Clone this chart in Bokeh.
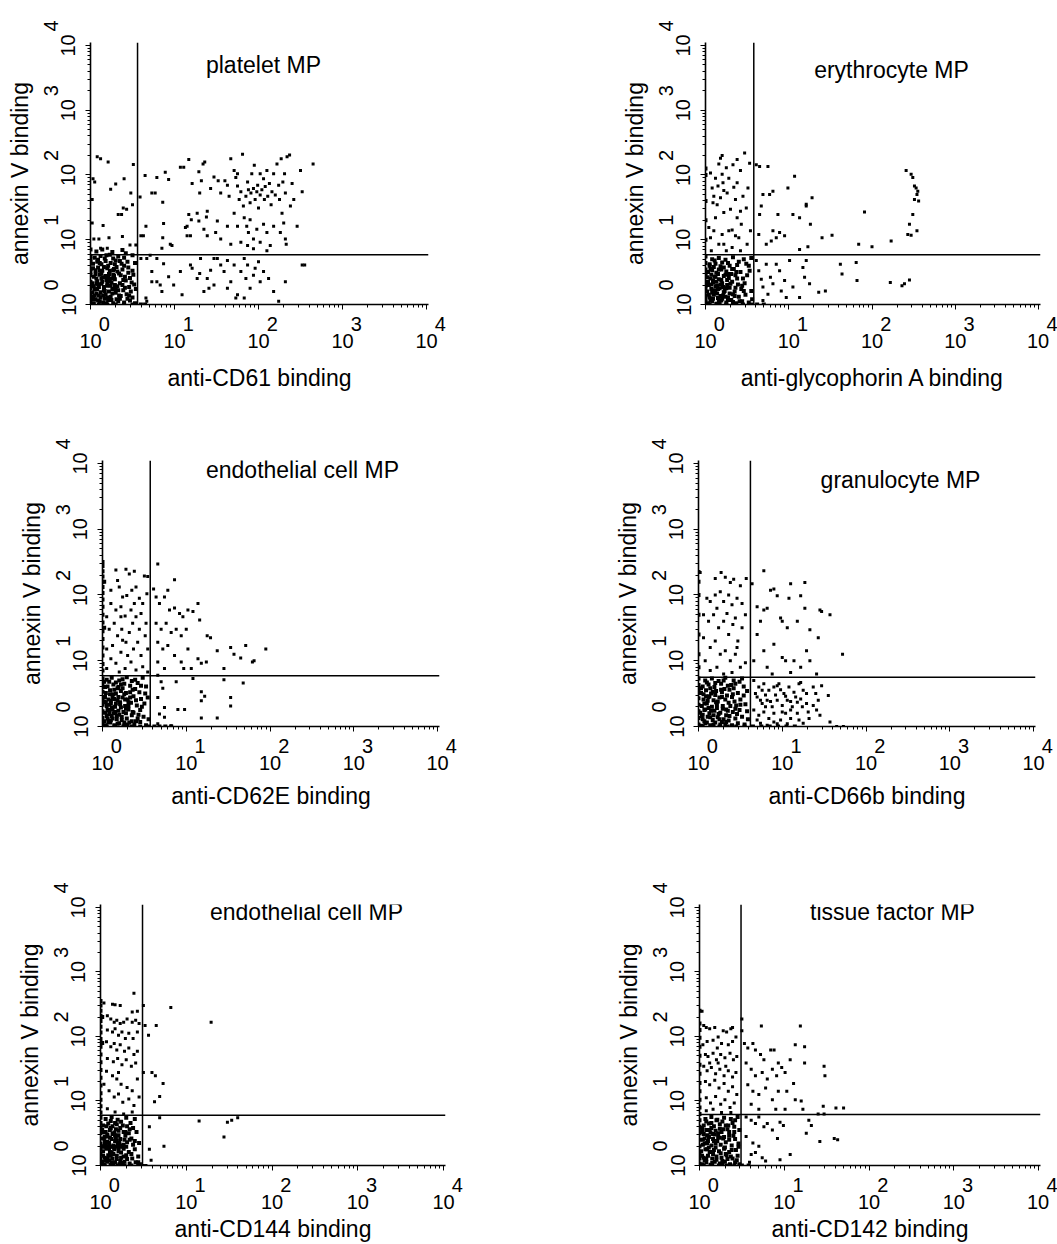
import math
from bokeh.plotting import figure
from bokeh.layouts import row, column
from bokeh.models import Range1d, Span, Label, CustomJSTickFormatter
from bokeh.embed import file_html
from bokeh.resources import INLINE

FONT = "Liberation Sans"

# ---------------- data (values in decades, log10) ----------------
titles = ["platelet MP", "erythrocyte MP", "endothelial cell MP",
          "granulocyte MP", "endothelial cell MP", "tissue factor MP"]
x_labels = ["anti-CD61 binding", "anti-glycophorin A binding", "anti-CD62E binding",
            "anti-CD66b binding", "anti-CD144 binding", "anti-CD142 binding"]
y_label = "annexin V binding"
gate_x_log = [0.56, 0.58, 0.57, 0.62, 0.49, 0.49]
gate_y_log = [0.77, 0.77, 0.77, 0.75, 0.78, 0.79]

p1_sparse = [
    (0.08,2.28),(0.12,2.25),(0.21,2.2),(0.03,1.94),(0.05,1.89),(0.30,1.86),(0.24,1.78),(0.40,1.94),(0.51,2.16),
    (0.48,1.72),(0.39,1.49),(0.33,1.39),(0.37,1.39),(0.43,1.47),(0.50,1.54),(0.15,1.22),(0.02,1.62),(0.02,1.26),
    (0.04,1.01),(0.10,1.01),(0.22,1.03),(0.38,1.05),(0.47,0.92),(0.54,0.92),(0.12,0.87),(0.20,0.87),
    (0.59,1.66),(0.60,1.06),(0.63,1.06),(0.65,1.99),(0.66,1.21),(0.73,1.72),(0.77,1.72),(0.79,1.96),(0.86,1.58),
    (0.86,1.03),(0.87,1.25),(0.89,2.04),(0.93,1.93),(0.95,0.93),(0.97,0.91),(0.85,0.87),(1.07,2.12),(1.11,2.12),
    (1.17,2.24),(1.15,1.21),(1.13,1.19),(1.17,1.39),(1.20,1.31),(1.15,1.06),(1.19,1.06),(1.21,1.87),(1.29,2.05),
    (1.29,1.29),(1.34,2.17),(1.36,2.2),(1.32,1.91),(1.30,1.72),(1.27,1.41),(1.35,1.16),(1.39,1.06),(1.39,1.44),
    (1.43,1.79),(1.38,1.35),
    (0.60,0.71),(0.67,0.71),(0.71,0.76),(0.79,0.71),(0.87,0.63),(0.73,0.51),(0.79,0.35),(0.83,0.30),(0.85,0.20),
    (0.93,0.43),(0.99,0.30),(1.07,0.51),(1.09,0.15),(1.19,0.61),(1.21,0.56),(1.27,0.40),(1.30,0.48),(1.35,0.20),
    (1.41,0.25),(1.43,0.53),(1.47,0.71),(0.66,0.10),(0.67,0.05),(0.73,0.35),
    (1.47,1.97),(1.52,1.91),(1.55,1.72),(1.60,1.91),(1.63,1.84),(1.65,1.67),(1.67,2.25),(1.71,2.07),(1.73,1.96),
    (1.75,1.83),(1.75,2.02),(1.77,1.62),(1.79,1.74),(1.81,2.32),(1.82,1.52),(1.85,1.67),(1.87,1.89),(1.88,1.77),
    (1.90,1.57),(1.91,1.72),(1.92,2.02),(1.94,1.79),(1.95,2.15),(1.96,1.62),(1.98,1.74),(1.99,1.84),(2.00,1.49),
    (2.02,1.69),(2.02,2.02),(2.04,1.77),(2.06,1.94),(2.07,1.62),(2.08,1.82),(2.10,2.07),(2.11,1.67),(2.13,1.87),
    (2.15,1.54),(2.16,1.74),(2.18,2.02),(2.20,1.69),(2.22,2.17),(2.24,1.84),(2.25,1.62),(2.27,2.25),(2.29,1.89),
    (2.31,2.02),(2.32,1.72),(2.34,2.28),(2.37,2.31),(2.38,1.52),(2.40,1.87),(2.42,1.62),(2.46,1.21),(2.50,2.07),
    (2.52,1.74),(2.65,2.17),(2.28,1.41),(2.30,1.26),(2.32,1.01),(2.33,0.93),(2.26,1.11),
    (1.71,1.41),(1.75,1.21),(1.83,1.34),(1.86,1.21),(1.88,1.11),(1.90,1.31),(1.94,1.01),(1.98,1.16),(2.02,0.96),
    (2.06,1.24),(2.10,1.11),(2.14,0.91),(2.18,1.21),(1.63,1.21),(1.55,1.01),(1.51,1.29),(1.79,0.96),(1.87,0.91),
    (1.67,0.93),(1.49,1.11),(1.94,0.86),(2.10,0.83),
    (1.51,0.71),(1.55,0.61),(1.59,0.51),(1.63,0.68),(1.67,0.35),(1.71,0.61),(1.73,0.10),(1.75,0.15),(1.79,0.51),
    (1.83,0.71),(1.85,0.40),(1.87,0.61),(1.90,0.25),(1.94,0.45),(1.96,0.56),(2.00,0.66),(2.02,0.35),(2.06,0.51),
    (2.12,0.40),(2.18,0.20),(2.24,0.05),(2.32,0.35),(2.52,0.61),(2.55,0.61),(1.47,0.30),(1.39,0.40),(1.31,0.71),
    (1.83,0.10),(1.63,0.25),
]
p1_dense = [
    (0.00,0.05),(0.00,0.15),(0.00,0.25),(0.00,0.35),(0.00,0.45),(0.00,0.55),(0.00,0.65),(0.00,0.75),(0.00,0.85),
    (0.00,0.10),(0.00,0.30),(0.00,0.50),(0.00,0.70),
    (0.04,0.02),(0.09,0.06),(0.15,0.03),(0.21,0.07),(0.27,0.02),(0.33,0.05),(0.40,0.03),(0.47,0.06),(0.53,0.02),
    (0.03,0.12),(0.07,0.17),(0.12,0.11),(0.18,0.15),(0.24,0.12),(0.30,0.18),(0.36,0.13),(0.43,0.16),(0.50,0.11),
    (0.05,0.23),(0.10,0.27),(0.16,0.22),(0.20,0.29),(0.26,0.24),(0.32,0.28),(0.39,0.22),(0.46,0.27),(0.54,0.24),
    (0.02,0.33),(0.08,0.36),(0.13,0.32),(0.19,0.38),(0.25,0.34),(0.29,0.39),(0.35,0.33),(0.42,0.37),(0.49,0.34),
    (0.04,0.43),(0.11,0.46),(0.15,0.42),(0.22,0.47),(0.28,0.44),(0.34,0.48),(0.41,0.43),(0.51,0.46),
    (0.06,0.53),(0.09,0.57),(0.14,0.52),(0.20,0.56),(0.27,0.53),(0.31,0.58),(0.38,0.54),(0.45,0.57),
    (0.03,0.63),(0.08,0.66),(0.13,0.62),(0.18,0.67),(0.24,0.64),(0.30,0.68),(0.37,0.63),(0.44,0.66),(0.53,0.64),
    (0.05,0.72),(0.12,0.75),(0.17,0.71),(0.23,0.77),(0.33,0.74),(0.40,0.72),(0.50,0.76),
    (0.07,0.82),(0.14,0.85),(0.26,0.81),(0.38,0.84),
    (0.06,0.08),(0.12,0.19),(0.17,0.09),(0.22,0.20),(0.09,0.31),(0.16,0.27),(0.23,0.36),(0.07,0.40),(0.18,0.44),
    (0.13,0.48),(0.25,0.07),(0.29,0.30),(0.10,0.14),(0.20,0.33),(0.27,0.46),(0.02,0.19),(0.04,0.28),(0.35,0.09),
    (0.41,0.26),(0.47,0.41),(0.32,0.51),(0.21,0.60),(0.11,0.64),(0.27,0.71),
    (0.05,0.14),(0.08,0.24),(0.11,0.05),(0.14,0.35),(0.17,0.21),(0.19,0.02),(0.21,0.41),(0.24,0.29),(0.26,0.17),
    (0.28,0.55),(0.31,0.08),(0.33,0.22),(0.36,0.45),(0.38,0.30),(0.44,0.09),(0.48,0.20),(0.52,0.31),(0.45,0.49),
    (0.40,0.60),(0.35,0.67),(0.16,0.58),(0.06,0.47),(0.03,0.56),(0.09,0.69),(0.19,0.76),(0.29,0.62),(0.42,0.79),
    (0.02,0.08),(0.13,0.40),(0.23,0.52),(0.07,0.33),(0.15,0.14),(0.25,0.40),(0.34,0.14),(0.11,0.52),(0.20,0.11),
    (0.30,0.24),(0.39,0.38),(0.46,0.14),(0.50,0.52),
    (0.02,0.0),(0.10,0.0),(0.20,0.0),(0.30,0.0),(0.40,0.0),(0.50,0.0),(0.60,0.0),(0.65,0.0),
]

p2_sparse = [
    (0.06,2.03),(0.08,1.80),(0.10,1.67),(0.12,1.95),(0.14,1.54),(0.16,2.17),(0.18,2.26),(0.20,2.30),(0.21,1.88),
    (0.22,1.42),(0.25,2.11),(0.26,1.72),(0.28,1.95),(0.30,1.47),(0.32,1.15),(0.33,2.16),(0.34,1.81),(0.36,1.62),
    (0.38,1.34),(0.38,1.88),(0.40,1.03),(0.42,2.07),(0.43,1.24),(0.45,1.67),(0.47,2.34),(0.49,1.49),(0.50,0.93),
    (0.51,1.80),(0.53,2.18),(0.54,1.14),(0.04,1.19),(0.06,1.03),(0.10,1.14),(0.16,0.93),(0.12,1.34),(0.20,1.08),
    (0.22,0.93),(0.28,1.14),(0.32,0.88),(0.36,1.06),(0.18,1.65),(0.42,1.44),(0.15,1.83),(0.20,2.01),(0.09,1.57),
    (0.38,2.24),(0.22,1.76),(0.07,0.83),(0.25,0.83),(0.42,0.83),
    (0.61,2.16),(0.65,2.13),(0.75,2.13),(0.67,1.52),(0.65,1.39),(0.69,1.70),(0.77,1.70),(0.81,1.75),(0.87,1.39),
    (0.81,1.14),(0.85,1.03),(0.89,1.11),(0.79,0.98),(0.95,1.06),(0.99,1.80),(1.07,1.98),(1.05,1.39),(1.13,1.34),
    (1.21,1.55),(1.21,1.52),(1.28,1.65),(1.26,1.24),(1.40,1.03),(1.13,0.85),(1.23,0.89),(0.64,1.08),(0.73,0.93),
    (1.52,1.07),(1.84,0.93),(1.91,1.43),(2.00,0.89),(2.23,0.98),(2.41,2.07),(2.47,2.01),(2.49,1.96),(2.51,1.83),
    (2.53,1.80),(2.55,1.75),(2.54,1.70),(2.51,1.62),(2.56,1.60),(2.49,1.39),(2.45,1.24),(2.43,1.08),(2.47,1.07),
    (2.54,1.14),(2.45,0.38),(2.36,0.29),(2.39,0.32),(2.22,0.34),
    (0.61,0.68),(0.64,0.52),(0.67,0.39),(0.69,0.27),(0.73,0.62),(0.75,0.16),(0.78,0.42),(0.81,0.32),(0.85,0.62),
    (0.89,0.52),(0.91,0.21),(0.95,0.37),(0.97,0.11),(1.01,0.68),(1.05,0.27),(1.13,0.11),(1.19,0.42),(1.21,0.68),
    (1.25,0.32),(1.36,0.19),(1.44,0.21),(1.17,0.57),(1.62,0.62),(1.64,0.47),(1.81,0.65),(1.82,0.37),(0.69,0.06),
]
p2_dense = [
    (0.00,0.04),(0.00,0.14),(0.00,0.24),(0.00,0.34),(0.00,0.44),(0.00,0.54),(0.00,0.64),(0.00,0.74),(0.00,0.09),
    (0.00,0.29),(0.00,0.49),(0.00,1.0),(0.00,1.3),(0.00,1.6),(0.00,2.0),(0.00,2.1),
    (0.03,0.02),(0.08,0.05),(0.13,0.01),(0.19,0.06),(0.25,0.03),(0.31,0.07),(0.37,0.02),(0.44,0.05),(0.52,0.03),
    (0.05,0.11),(0.10,0.15),(0.15,0.10),(0.21,0.14),(0.27,0.11),(0.33,0.16),(0.40,0.12),(0.48,0.15),
    (0.02,0.20),(0.07,0.24),(0.12,0.19),(0.17,0.25),(0.23,0.21),(0.29,0.26),(0.35,0.20),(0.43,0.24),(0.55,0.21),
    (0.04,0.30),(0.09,0.34),(0.14,0.29),(0.20,0.33),(0.26,0.30),(0.32,0.35),(0.39,0.31),(0.47,0.33),
    (0.06,0.40),(0.11,0.43),(0.16,0.39),(0.22,0.44),(0.28,0.41),(0.36,0.45),(0.45,0.40),
    (0.03,0.50),(0.08,0.53),(0.13,0.49),(0.19,0.54),(0.25,0.51),(0.34,0.55),(0.42,0.50),(0.53,0.52),
    (0.05,0.60),(0.12,0.63),(0.18,0.59),(0.27,0.64),(0.38,0.61),(0.49,0.63),
    (0.08,0.70),(0.16,0.72),(0.24,0.69),(0.33,0.73),(0.46,0.70),(0.55,0.72),
    (0.06,0.07),(0.11,0.22),(0.16,0.06),(0.21,0.27),(0.09,0.37),(0.18,0.31),(0.24,0.12),(0.07,0.46),(0.15,0.47),
    (0.29,0.17),(0.12,0.28),(0.03,0.35),(0.26,0.38),(0.20,0.09),(0.31,0.47),(0.10,0.58),(0.22,0.57),(0.36,0.26),
    (0.04,0.15),(0.07,0.31),(0.09,0.09),(0.12,0.43),(0.14,0.17),(0.17,0.04),(0.19,0.38),(0.22,0.19),(0.24,0.46),
    (0.27,0.07),(0.30,0.32),(0.32,0.55),(0.35,0.13),(0.38,0.40),(0.41,0.05),(0.44,0.29),(0.50,0.45),(0.56,0.08),
    (0.02,0.42),(0.06,0.55),(0.11,0.68),(0.20,0.65),(0.29,0.60),(0.40,0.66),(0.52,0.60),(0.15,0.24),(0.25,0.25),
    (0.05,0.62),(0.13,0.35),(0.33,0.04),(0.46,0.21),(0.37,0.50),(0.18,0.13),(0.28,0.47),(0.08,0.18),(0.16,0.54),
    (0.05,0.0),(0.15,0.0),(0.25,0.0),(0.35,0.0),(0.45,0.0),(0.55,0.0),(0.62,0.0),(0.70,0.0),
]

p3_sparse = [
    (0.16,2.38),(0.28,2.39),(0.32,2.32),(0.38,2.36),(0.50,2.29),(0.54,2.28),(0.66,2.47),(0.86,2.23),(0.18,2.22),
    (0.10,2.07),(0.20,2.12),(0.24,1.97),(0.29,1.99),(0.35,2.07),(0.40,2.12),(0.44,1.95),(0.48,1.87),(0.53,2.02),
    (0.10,1.87),(0.16,1.77),(0.22,1.82),(0.27,1.68),(0.34,1.77),(0.40,1.67),(0.46,1.72),(0.52,1.57),(0.05,1.67),
    (0.08,1.48),(0.14,1.57),(0.18,1.38),(0.23,1.48),(0.28,1.28),(0.32,1.43),(0.37,1.18),(0.42,1.28),(0.46,1.08),
    (0.51,1.38),(0.54,1.18),(0.05,1.18),(0.10,1.03),(0.16,0.96),(0.22,1.13),(0.27,0.88),(0.34,0.98),(0.40,0.86),
    (0.48,0.91),(0.54,0.83),(0.20,0.83),(0.05,0.88),(0.12,1.23),(0.36,1.57),(0.44,1.48),(0.22,1.67),(0.30,1.08),
    (0.24,1.31),(0.38,1.87),
    (0.61,2.09),(0.64,1.97),(0.68,1.87),(0.74,1.97),(0.78,2.07),(0.80,1.77),(0.86,1.80),(0.92,1.72),(0.96,1.67),
    (1.02,1.77),(1.08,1.75),(1.14,1.87),(1.16,1.62),(0.64,1.57),(0.70,1.48),(0.76,1.57),(0.82,1.43),(0.88,1.48),
    (0.94,1.38),(1.00,1.48),(0.66,1.28),(0.72,1.18),(0.78,1.23),(0.86,1.08),(0.94,0.98),(1.02,1.18),(0.66,0.98),
    (0.74,0.88),(1.06,0.88),(1.14,1.03),(1.24,0.98),(1.25,1.38),(1.29,1.35),(1.37,1.15),(1.53,1.20),(1.57,1.10),
    (1.65,1.04),(1.71,1.23),(1.79,0.98),(1.81,1.00),(1.95,1.18),(1.45,0.88),(1.18,0.96),(0.97,0.88),
    (0.66,0.78),(0.70,0.68),(0.72,0.58),(0.66,0.44),(0.74,0.29),(0.68,0.19),(0.74,0.14),(0.88,0.68),(0.90,0.26),
    (0.98,0.26),(1.08,0.73),(1.18,0.53),(1.22,0.46),(1.18,0.39),(1.18,0.13),(1.37,0.13),(1.45,0.71),(1.53,0.44),
    (1.53,0.31),(1.68,0.66),(0.66,0.04),(0.82,0.01),
]
p3_dense = [
    (0.00,0.03),(0.00,0.13),(0.00,0.23),(0.00,0.33),(0.00,0.43),(0.00,0.53),(0.00,0.63),(0.00,0.73),(0.00,0.85),
    (0.00,0.95),(0.00,1.08),(0.00,1.2),(0.00,1.33),(0.00,1.45),(0.00,1.58),(0.00,1.7),(0.00,1.82),(0.00,1.93),
    (0.00,2.03),(0.00,2.12),(0.00,2.2),(0.00,2.28),(0.00,2.36),(0.00,2.44),(0.00,2.5),
    (0.02,0.08),(0.02,0.38),(0.02,0.68),(0.02,1.5),(0.02,2.2),
    (0.04,0.02),(0.09,0.06),(0.14,0.02),(0.20,0.05),(0.26,0.01),(0.32,0.06),(0.38,0.03),(0.45,0.07),(0.52,0.02),
    (0.06,0.12),(0.11,0.16),(0.17,0.11),(0.23,0.15),(0.29,0.12),(0.35,0.17),(0.42,0.12),(0.49,0.15),(0.55,0.11),
    (0.03,0.21),(0.08,0.25),(0.13,0.20),(0.19,0.24),(0.25,0.22),(0.31,0.26),(0.37,0.21),(0.45,0.25),
    (0.05,0.31),(0.10,0.35),(0.15,0.30),(0.21,0.34),(0.27,0.31),(0.34,0.36),(0.41,0.32),(0.50,0.35),
    (0.07,0.41),(0.12,0.45),(0.18,0.40),(0.24,0.44),(0.30,0.41),(0.37,0.46),(0.46,0.42),(0.54,0.44),
    (0.04,0.51),(0.09,0.55),(0.16,0.50),(0.22,0.54),(0.28,0.51),(0.36,0.56),(0.44,0.52),
    (0.06,0.61),(0.13,0.64),(0.19,0.60),(0.26,0.65),(0.33,0.62),(0.42,0.66),(0.52,0.61),
    (0.05,0.71),(0.11,0.74),(0.20,0.70),(0.29,0.75),(0.39,0.71),(0.48,0.74),
    (0.07,0.07),(0.12,0.26),(0.17,0.16),(0.22,0.29),(0.10,0.39),(0.19,0.45),(0.26,0.06),(0.31,0.37),(0.14,0.56),
    (0.24,0.58),(0.08,0.19),(0.35,0.08),(0.03,0.45),(0.28,0.20),(0.16,0.35),(0.40,0.40),
    (0.05,0.16),(0.08,0.33),(0.10,0.09),(0.13,0.49),(0.15,0.22),(0.18,0.04),(0.21,0.37),(0.23,0.10),(0.26,0.49),
    (0.28,0.27),(0.30,0.03),(0.33,0.44),(0.36,0.22),(0.39,0.57),(0.43,0.18),(0.47,0.30),(0.51,0.50),(0.03,0.60),
    (0.08,0.68),(0.16,0.67),(0.24,0.72),(0.35,0.69),(0.46,0.62),(0.11,0.29),(0.20,0.18),(0.31,0.31),(0.06,0.25),
    (0.14,0.42),(0.27,0.41),(0.40,0.08),(0.18,0.58),(0.09,0.49),(0.33,0.52),(0.04,0.37),(0.22,0.64),(0.12,0.12),
    (0.05,0.0),(0.15,0.0),(0.25,0.0),(0.35,0.0),(0.45,0.0),(0.55,0.0),(0.62,0.0),(0.68,0.0),(0.75,0.0),(0.82,0.0),
]

p4_sparse = [
    (0.02,2.34),(0.20,2.25),(0.27,2.34),(0.32,2.27),(0.38,2.19),(0.42,2.24),(0.50,2.14),(0.57,2.25),(0.10,1.95),
    (0.14,1.90),(0.20,2.00),(0.26,2.05),(0.30,1.90),(0.36,2.00),(0.40,1.85),(0.46,1.95),(0.52,1.87),(0.56,1.70),
    (0.06,1.70),(0.12,1.60),(0.18,1.70),(0.24,1.50),(0.30,1.60),(0.36,1.40),(0.41,1.55),(0.47,1.30),(0.52,1.50),
    (0.06,1.35),(0.14,1.20),(0.20,1.30),(0.26,1.10),(0.32,1.15),(0.38,1.00),(0.44,1.10),(0.50,0.90),(0.56,0.97),
    (0.08,1.00),(0.14,0.85),(0.22,0.90),(0.30,0.80),(0.40,0.82),(0.46,1.20),(0.22,1.80),(0.44,1.65),(0.34,1.72),
    (0.78,2.37),(0.64,2.17),(0.70,1.82),(0.74,1.60),(0.78,1.77),(0.82,1.80),(0.86,2.07),(0.90,2.09),(0.94,1.99),
    (0.98,1.65),(1.00,1.60),(1.06,1.50),(1.10,2.17),(1.08,1.95),(1.18,1.60),(1.22,1.99),(1.27,2.19),(1.27,1.80),
    (1.33,1.47),(1.45,1.77),(1.47,1.75),(1.57,1.70),(1.43,1.35),(1.29,1.15),(1.33,1.00),(1.00,1.05),(1.04,1.00),
    (0.78,1.15),(0.70,1.40),(0.82,0.90),(0.90,1.25),(1.22,0.90),(1.14,1.00),(0.66,1.00),(1.72,1.10),(1.41,0.80),
    (1.10,0.82),(0.88,0.80),
    (0.66,0.70),(0.72,0.60),(0.78,0.65),(0.84,0.55),(0.90,0.60),(0.96,0.65),(1.02,0.50),(1.08,0.60),(1.14,0.52),
    (1.20,0.65),(1.25,0.55),(1.22,0.67),(0.70,0.45),(0.76,0.35),(0.82,0.40),(0.88,0.30),(0.94,0.40),(1.00,0.32),
    (1.06,0.40),(1.12,0.30),(1.18,0.37),(1.24,0.30),(1.29,0.35),(1.37,0.32),(1.43,0.40),(0.66,0.25),(0.72,0.17),
    (0.78,0.22),(0.84,0.12),(0.90,0.20),(0.98,0.10),(1.04,0.20),(1.10,0.12),(1.18,0.20),(1.25,0.05),(1.31,0.22),
    (1.41,0.25),(1.45,0.17),(1.57,0.07),(1.55,0.47),(1.47,0.62),(1.65,0.0),(1.73,0.0),(1.37,0.60),(1.29,0.50),
    (0.74,0.05),(0.82,0.02),(0.94,0.04),(1.06,0.04),
    (0.68,0.50),(0.74,0.40),(0.80,0.48),(0.86,0.38),(0.92,0.48),(0.98,0.56),(1.04,0.46),(1.10,0.38),(1.16,0.45),
    (1.22,0.42),(0.70,0.10),(0.80,0.30),(0.90,0.07),(1.00,0.22),(1.10,0.25),(1.20,0.10),(1.32,0.12),(1.40,0.50),
    (0.76,0.55),(0.94,0.62),
]
p4_dense = [
    (0.00,0.03),(0.00,0.13),(0.00,0.23),(0.00,0.33),(0.00,0.43),(0.00,0.53),(0.00,0.63),(0.00,0.73),(0.00,0.9),
    (0.00,1.1),(0.00,1.4),(0.00,1.7),(0.00,2.0),(0.00,2.2),(0.00,2.35),
    (0.03,0.01),(0.08,0.05),(0.14,0.02),(0.20,0.06),(0.26,0.03),(0.33,0.07),(0.40,0.02),(0.47,0.05),(0.55,0.03),
    (0.05,0.11),(0.11,0.15),(0.17,0.10),(0.23,0.14),(0.30,0.11),(0.37,0.16),(0.44,0.12),(0.52,0.15),(0.59,0.11),
    (0.02,0.21),(0.07,0.25),(0.13,0.20),(0.19,0.24),(0.26,0.21),(0.33,0.26),(0.41,0.22),(0.49,0.25),
    (0.04,0.31),(0.10,0.35),(0.16,0.30),(0.22,0.34),(0.29,0.31),(0.36,0.36),(0.45,0.32),(0.56,0.34),
    (0.06,0.41),(0.12,0.45),(0.18,0.40),(0.25,0.44),(0.32,0.41),(0.40,0.45),(0.50,0.41),
    (0.03,0.51),(0.09,0.55),(0.15,0.50),(0.21,0.54),(0.28,0.52),(0.37,0.56),(0.47,0.51),(0.58,0.54),
    (0.05,0.61),(0.12,0.64),(0.19,0.60),(0.27,0.65),(0.35,0.62),(0.44,0.65),(0.54,0.61),
    (0.08,0.70),(0.16,0.73),(0.24,0.69),(0.32,0.74),(0.42,0.70),(0.52,0.73),
    (0.07,0.08),(0.12,0.28),(0.18,0.17),(0.23,0.38),(0.09,0.46),(0.28,0.07),(0.14,0.58),(0.35,0.24),(0.20,0.48),
    (0.31,0.57),(0.43,0.38),(0.05,0.18),
    (0.04,0.16),(0.07,0.35),(0.10,0.06),(0.13,0.46),(0.15,0.24),(0.18,0.03),(0.21,0.37),(0.24,0.19),(0.27,0.56),
    (0.29,0.27),(0.32,0.03),(0.34,0.47),(0.38,0.31),(0.42,0.58),(0.46,0.19),(0.50,0.33),(0.54,0.47),(0.58,0.23),
    (0.03,0.58),(0.10,0.67),(0.20,0.66),(0.30,0.70),(0.39,0.63),(0.49,0.68),(0.11,0.39),(0.17,0.53),(0.25,0.11),
    (0.36,0.09),(0.44,0.27),(0.06,0.49),(0.22,0.28),(0.33,0.17),(0.41,0.49),(0.14,0.14),(0.28,0.45),(0.08,0.26),
    (0.05,0.0),(0.15,0.0),(0.25,0.0),(0.35,0.0),(0.45,0.0),(0.55,0.0),(0.65,0.0),(0.75,0.0),(0.85,0.0),(0.95,0.0),
    (1.05,0.0),(1.15,0.0),
]

p5_sparse = [
    (0.50,2.48),(0.52,2.17),(0.65,2.17),(0.56,2.02),(0.82,2.45),(1.29,2.22),(0.39,2.67),(0.50,1.44),(0.60,1.44),
    (0.64,1.39),(0.73,1.27),(0.69,1.07),(0.63,0.99),(0.57,0.60),(0.69,0.74),(1.15,0.69),(1.48,0.67),(1.53,0.70),
    (1.60,0.74),(1.44,0.44),(0.57,0.25),(0.74,0.30),(0.59,0.08),(0.50,0.0),(0.53,0.0),
    (0.04,2.52),(0.14,2.50),(0.17,2.49),(0.23,2.48),(0.37,2.38),(0.43,2.39),(0.08,2.32),(0.12,2.27),(0.16,2.22),
    (0.19,2.25),(0.23,2.20),(0.27,2.22),(0.31,2.27),(0.37,2.22),(0.41,2.25),(0.45,2.20),(0.08,2.10),(0.14,2.07),
    (0.17,2.12),(0.21,2.02),(0.25,2.07),(0.29,1.97),(0.33,2.05),(0.38,1.97),(0.43,2.07),(0.07,1.92),(0.12,1.84),
    (0.16,1.89),(0.19,1.79),(0.23,1.87),(0.28,1.77),(0.33,1.82),(0.39,1.72),(0.43,1.77),(0.08,1.66),(0.15,1.61),
    (0.20,1.66),(0.25,1.56),(0.30,1.64),(0.36,1.54),(0.41,1.59),(0.07,1.46),(0.14,1.39),(0.19,1.34),(0.24,1.26),
    (0.31,1.21),(0.37,1.16),(0.43,1.34),(0.10,1.16),(0.16,1.06),(0.21,1.11),(0.26,0.98),(0.33,1.03),(0.39,0.93),
    (0.45,1.06),(0.08,0.88),(0.17,0.83),(0.27,0.80),(0.37,0.83),(0.04,1.26),(0.21,1.44),
]
p5_dense = [
    (0.00,0.02),(0.00,0.1),(0.00,0.18),(0.00,0.26),(0.00,0.34),(0.00,0.42),(0.00,0.5),(0.00,0.58),(0.00,0.66),
    (0.00,0.74),(0.00,0.82),(0.00,0.92),(0.00,1.02),(0.00,1.12),(0.00,1.24),(0.00,1.36),(0.00,1.48),(0.00,1.6),
    (0.00,1.72),(0.00,1.84),(0.00,1.96),(0.00,2.06),(0.00,2.15),(0.00,2.24),(0.00,2.32),(0.00,2.4),(0.00,2.48),
    (0.00,2.55),(0.02,0.06),(0.02,0.3),(0.02,0.55),(0.02,1.9),(0.02,2.3),
    (0.04,0.02),(0.08,0.06),(0.12,0.01),(0.17,0.05),(0.22,0.02),(0.28,0.06),(0.34,0.03),(0.41,0.05),(0.46,0.02),
    (0.05,0.12),(0.09,0.16),(0.14,0.11),(0.19,0.15),(0.24,0.12),(0.30,0.16),(0.37,0.11),(0.44,0.14),
    (0.03,0.22),(0.07,0.26),(0.11,0.21),(0.16,0.25),(0.21,0.22),(0.27,0.26),(0.33,0.21),(0.40,0.25),
    (0.05,0.32),(0.10,0.35),(0.15,0.31),(0.20,0.34),(0.25,0.31),(0.31,0.36),(0.38,0.32),(0.45,0.35),
    (0.04,0.42),(0.08,0.45),(0.13,0.41),(0.18,0.44),(0.23,0.41),(0.29,0.46),(0.36,0.42),
    (0.06,0.52),(0.11,0.55),(0.16,0.51),(0.21,0.54),(0.27,0.52),(0.34,0.56),(0.42,0.52),
    (0.03,0.62),(0.09,0.65),(0.14,0.61),(0.19,0.64),(0.26,0.62),(0.35,0.66),
    (0.06,0.72),(0.13,0.75),(0.20,0.71),(0.30,0.74),(0.40,0.72),
    (0.06,0.08),(0.10,0.27),(0.15,0.18),(0.19,0.38),(0.08,0.48),(0.23,0.07),(0.12,0.58),(0.27,0.32),(0.17,0.47),
    (0.05,0.37),(0.21,0.27),(0.13,0.05),
    (0.03,0.15),(0.06,0.33),(0.08,0.10),(0.11,0.43),(0.13,0.20),(0.15,0.03),(0.17,0.38),(0.19,0.10),(0.21,0.47),
    (0.24,0.20),(0.26,0.04),(0.28,0.40),(0.31,0.10),(0.33,0.50),(0.36,0.18),(0.40,0.38),(0.44,0.05),(0.03,0.52),
    (0.07,0.61),(0.12,0.69),(0.17,0.66),(0.24,0.68),(0.31,0.61),(0.38,0.58),(0.10,0.08),(0.14,0.49),(0.18,0.56),
    (0.08,0.37),(0.22,0.35),(0.27,0.14),(0.05,0.45),(0.12,0.15),(0.16,0.28),(0.23,0.58),(0.29,0.52),(0.34,0.40),
    (0.03,0.29),(0.06,0.29),(0.09,0.29),(0.12,0.29),(0.15,0.29),(0.18,0.29),(0.22,0.29),(0.26,0.29),(0.30,0.29),
    (0.05,0.0),(0.12,0.0),(0.20,0.0),(0.28,0.0),(0.36,0.0),(0.44,0.0),
]

p6_sparse = [
    (0.03,2.39),(0.05,2.17),(0.08,2.14),(0.12,2.12),(0.18,2.14),(0.28,2.09),(0.32,2.07),(0.37,2.12),(0.39,2.14),
    (0.22,1.99),(0.16,1.94),(0.26,1.89),(0.34,1.87),(0.39,1.92),(0.43,1.99),(0.07,1.72),(0.10,1.69),(0.16,1.74),
    (0.20,1.64),(0.25,1.72),(0.30,1.67),(0.36,1.74),(0.40,1.64),(0.44,1.69),(0.05,1.54),(0.09,1.47),(0.14,1.52),
    (0.19,1.42),(0.24,1.49),(0.29,1.39),(0.34,1.47),(0.39,1.37),(0.43,1.44),(0.07,1.30),(0.12,1.25),(0.18,1.32),
    (0.23,1.20),(0.29,1.27),(0.34,1.15),(0.39,1.22),(0.44,1.10),(0.08,1.05),(0.13,0.97),(0.19,1.07),(0.25,0.95),
    (0.30,1.02),(0.36,0.90),(0.41,0.97),(0.08,0.85),(0.16,0.87),(0.26,0.82),(0.37,0.82),(0.12,1.59),(0.22,1.59),
    (0.31,1.54),(0.04,1.87),(0.21,1.82),(0.09,1.92),
    (0.50,2.27),(0.50,2.09),(0.73,2.16),(1.19,2.16),(0.53,1.89),(0.57,1.82),(0.63,1.89),(0.66,1.79),(0.72,1.72),
    (0.76,1.64),(0.84,1.79),(0.88,1.79),(0.93,1.59),(0.97,1.52),(1.07,1.64),(1.13,1.87),(1.24,1.84),(1.24,1.59),
    (1.47,1.54),(1.48,1.39),(0.55,1.59),(0.61,1.49),(0.66,1.39),(0.74,1.44),(0.80,1.34),(0.86,1.49),(0.91,1.39),
    (1.01,1.44),(0.57,1.25),(0.63,1.15),(0.70,1.10),(0.78,1.20),(0.86,1.02),(0.93,1.15),(1.03,1.15),(1.13,1.02),
    (1.20,1.00),(1.11,1.27),(0.61,0.95),(0.70,0.87),(0.90,0.87),(1.01,0.87),(1.22,0.87),(1.46,0.92),(1.61,0.89),
    (1.70,0.89),(1.40,0.80),(1.47,0.80),
    (0.55,0.75),(0.61,0.70),(0.66,0.65),(0.70,0.75),(0.76,0.60),(0.80,0.65),(0.86,0.55),(0.95,0.67),(0.99,0.62),
    (1.26,0.50),(1.29,0.70),(1.32,0.62),(1.42,0.37),(1.59,0.42),(1.63,0.40),(0.92,0.42),(0.70,0.30),(0.61,0.17),
    (0.66,0.20),(0.74,0.12),(0.78,0.07),(0.95,0.09),(1.07,0.17),(0.59,0.05),(0.63,0.35),(0.55,0.45),
]
p6_dense = [
    (0.00,0.03),(0.00,0.11),(0.00,0.2),(0.00,0.3),(0.00,0.4),(0.00,0.5),(0.00,0.6),(0.00,0.7),(0.00,0.8),
    (0.00,0.9),(0.00,1.02),(0.00,1.15),(0.00,1.28),(0.00,1.42),(0.00,1.56),(0.00,1.7),(0.00,1.84),(0.00,1.98),
    (0.00,2.1),(0.00,2.2),(0.00,2.4),
    (0.03,0.02),(0.08,0.05),(0.13,0.01),(0.18,0.06),(0.24,0.03),(0.30,0.06),(0.36,0.02),(0.42,0.05),(0.47,0.02),
    (0.05,0.12),(0.10,0.15),(0.15,0.11),(0.20,0.14),(0.26,0.12),(0.32,0.16),(0.39,0.11),(0.45,0.15),
    (0.02,0.22),(0.07,0.25),(0.12,0.21),(0.17,0.24),(0.23,0.22),(0.29,0.26),(0.35,0.21),(0.43,0.24),
    (0.04,0.32),(0.09,0.35),(0.14,0.31),(0.19,0.34),(0.25,0.32),(0.31,0.36),(0.38,0.31),(0.46,0.34),
    (0.06,0.42),(0.11,0.45),(0.16,0.41),(0.22,0.44),(0.28,0.42),(0.35,0.46),(0.42,0.41),
    (0.03,0.52),(0.08,0.55),(0.13,0.51),(0.19,0.54),(0.26,0.52),(0.33,0.56),(0.41,0.52),(0.47,0.55),
    (0.05,0.62),(0.11,0.65),(0.17,0.61),(0.24,0.64),(0.31,0.62),(0.39,0.66),
    (0.07,0.72),(0.14,0.75),(0.21,0.71),(0.29,0.74),(0.37,0.72),(0.45,0.75),
    (0.06,0.08),(0.11,0.28),(0.16,0.18),(0.21,0.38),(0.09,0.47),(0.27,0.07),(0.14,0.58),(0.30,0.28),(0.18,0.48),
    (0.04,0.40),(0.24,0.57),(0.35,0.40),
    (0.03,0.15),(0.06,0.34),(0.08,0.10),(0.11,0.44),(0.13,0.21),(0.15,0.04),(0.17,0.38),(0.20,0.09),(0.22,0.50),
    (0.25,0.19),(0.27,0.03),(0.29,0.44),(0.33,0.10),(0.35,0.52),(0.38,0.24),(0.41,0.60),(0.44,0.08),(0.46,0.29),
    (0.03,0.58),(0.08,0.68),(0.14,0.66),(0.20,0.70),(0.27,0.68),(0.34,0.62),(0.42,0.70),(0.09,0.25),(0.12,0.55),
    (0.19,0.28),(0.24,0.43),(0.31,0.18),(0.05,0.49),(0.16,0.49),(0.28,0.56),(0.37,0.14),(0.40,0.46),(0.10,0.38),
    (0.05,0.0),(0.14,0.0),(0.23,0.0),(0.32,0.0),(0.41,0.0),(0.50,0.0),(0.58,0.0),
]

sparse_points = [p1_sparse, p2_sparse, p3_sparse, p4_sparse, p5_sparse, p6_sparse]
dense_points = [p1_dense, p2_dense, p3_dense, p4_dense, p5_dense, p6_dense]

# ---------------- layout (page pixels; the page has no margin) ----------------
boxes = [(0, 0, 548, 418), (548, 0, 509, 418),
         (0, 418, 548, 442), (548, 418, 509, 442),
         (0, 860, 548, 384), (548, 860, 509, 384)]
# frame geometry: (x of 10^0, x of 10^4, y of 10^0, y of 10^4)
frames = [(90, 426, 312, 45), (705, 1038, 304, 43),
          (102, 437, 733, 463), (698, 1033, 726, 459),
          (100, 443, 1170, 907), (699, 1038, 1167, 899)]
title_px = [(263, 65), (891, 68), (302, 470), (900, 476), (306, 912), (892, 904)]
x_label_standoff = [10, 10, 6, 6, 0, 0]

# decade tick labels: exponent line above "10", the exponent shifted with no-break spaces
x_tick_code = """
const k = Math.round(Math.log10(tick));
return '\\u00a0\\u00a0\\u00a0\\u00a0\\u00a0' + k + '\\n10';
"""
y_tick_code = """
const k = Math.round(Math.log10(tick));
return '\\u00a0\\u00a0\\u00a0\\u00a0\\u00a0\\u00a0\\u00a0' + k + '\\n10';
"""


def make_panel(i):
    bx, by, bw, bh = boxes[i]
    fl, x4, y0, y4 = frames[i]
    dx = (x4 - fl) / 4.0
    dy = (y0 - y4) / 4.0
    x_end = (x4 + 2 - fl) / dx
    y_end = (y0 - (y4 - 3)) / dy
    p = figure(width=bw, height=bh, x_axis_type="log", y_axis_type="log",
               x_range=Range1d(1, 10 ** x_end), y_range=Range1d(1, 10 ** y_end),
               output_backend="svg", toolbar_location=None,
               min_border_left=fl - bx, min_border_right=bx + bw - (x4 + 2),
               min_border_top=(y4 - 3) - by, min_border_bottom=by + bh - y0)
    p.xgrid.visible = False
    p.ygrid.visible = False
    p.outline_line_color = None

    for pts, size in ((sparse_points[i], 3.0), (dense_points[i], 4.0)):
        xs = [10 ** a for a, b in pts]
        ys = [10 ** b for a, b in pts]
        p.scatter(xs, ys, marker="square", size=size, fill_color="black", line_color=None)

    p.add_layout(Span(location=10 ** gate_x_log[i], dimension="height",
                      line_color="black", line_width=1.5))
    p.add_layout(Span(location=10 ** gate_y_log[i], dimension="width",
                      line_color="black", line_width=1.5))

    tx, ty = title_px[i]
    p.add_layout(Label(x=10 ** ((tx - fl) / dx), y=10 ** ((y0 - ty) / dy), text=titles[i],
                       text_font=FONT, text_font_size="23px", text_color="black",
                       text_align="center", text_baseline="middle"))

    for ax, code in ((p.xaxis[0], x_tick_code), (p.yaxis[0], y_tick_code)):
        ax.formatter = CustomJSTickFormatter(code=code)
        ax.axis_line_color = "black"
        ax.axis_line_width = 1.6
        ax.major_tick_line_color = "black"
        ax.minor_tick_line_color = "black"
        ax.major_tick_in = 0
        ax.major_tick_out = 5
        ax.minor_tick_in = 0
        ax.minor_tick_out = 3
        ax.major_label_text_font = FONT
        ax.major_label_text_font_size = "20px"
        ax.major_label_text_line_height = 0.78
        ax.major_label_text_color = "black"
        ax.axis_label_text_font = FONT
        ax.axis_label_text_font_size = "23px"
        ax.axis_label_text_font_style = "normal"
        ax.axis_label_text_color = "black"
    p.xaxis[0].axis_label = x_labels[i]
    p.yaxis[0].axis_label = y_label
    p.xaxis[0].major_label_standoff = 3
    p.xaxis[0].axis_label_standoff = x_label_standoff[i]
    p.yaxis[0].major_label_orientation = "vertical"
    p.yaxis[0].major_label_standoff = 6
    p.yaxis[0].axis_label_standoff = 4
    return p


panels = [make_panel(i) for i in range(6)]
layout = column(row(panels[0], panels[1]), row(panels[2], panels[3]), row(panels[4], panels[5]))

open("out.html", "w").write(file_html(layout, INLINE))
